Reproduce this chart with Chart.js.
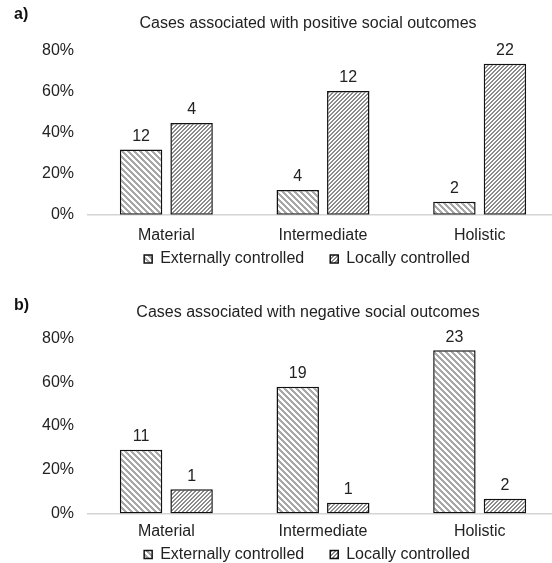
<!DOCTYPE html>
<html><head><meta charset="utf-8">
<script src="https://cdn.jsdelivr.net/npm/chart.js@4"></script>
<style>
html,body{margin:0;padding:0;background:#fff;overflow:hidden;width:552px;height:563px;}
#wrap{position:relative;width:552px;height:563px;overflow:hidden;background:#fff;}
canvas{position:absolute;left:0;}
#ca{top:0px;width:584px;height:309px;}
#cb{top:285px;width:584px;height:316px;}
.lab{position:absolute;left:14px;font:bold 16px "Liberation Sans",Arial,sans-serif;color:#111;line-height:18px;}
</style></head><body>
<div id="wrap">
<canvas id="ca" width="584" height="309"></canvas>
<canvas id="cb" width="584" height="316"></canvas>
<div class="lab" style="top:5px">a)</div>
<div class="lab" style="top:296px">b)</div>
</div>
<script>
// ---- data ----
const categories = ['Material', 'Intermediate', 'Holistic'];
const seriesNames = ['Externally controlled', 'Locally controlled'];
const yTicks = [0, 20, 40, 60, 80];

const titleA = 'Cases associated with positive social outcomes';
const posExternalPct = [31.8, 12.1, 6.3];
const posLocalPct = [44.7, 60.3, 73.6];
const posExternalCount = [12, 4, 2];
const posLocalCount = [4, 12, 22];

const titleB = 'Cases associated with negative social outcomes';
const negExternalPct = [29.1, 57.9, 74.6];
const negLocalPct = [11.1, 5.0, 6.8];
const negExternalCount = [11, 19, 23];
const negLocalCount = [1, 1, 2];

// ---- styles ----
const FONT = '"Liberation Sans", Arial, sans-serif';
const FS = 16;
const TXT = '#222222';

function makePattern(n, w, color, dir) {
  const c = document.createElement('canvas');
  c.width = n; c.height = n;
  const x = c.getContext('2d');
  x.fillStyle = '#ffffff';
  x.fillRect(0, 0, n, n);
  x.fillStyle = color;
  for (let i = 0; i < n; i++) {
    for (let j = 0; j < n; j++) {
      const v = dir > 0 ? (i + j) % n : ((i - j) % n + n) % n;
      if (v < w) x.fillRect(i, j, 1, 1);
    }
  }
  return x.createPattern(c, 'repeat');
}
const patExternal = makePattern(6, 3, '#a8a8a8', -1);
const patLocal = makePattern(4, 2, '#8c8c8c', 1);

const valueLabels = {
  id: 'valueLabels',
  afterDatasetsDraw(chart, args, opts) {
    const ctx = chart.ctx;
    ctx.save();
    ctx.font = FS + 'px ' + FONT;
    ctx.fillStyle = TXT;
    ctx.textAlign = 'center';
    ctx.textBaseline = 'middle';
    chart.data.datasets.forEach((ds, di) => {
      const meta = chart.getDatasetMeta(di);
      meta.data.forEach((el, i) => {
        ctx.fillText(String(opts.counts[di][i]), el.x, el.y - 13);
      });
    });
    ctx.restore();
  }
};

const shiftBlocks = {
  id: 'shiftBlocks',
  afterLayout(chart, args, opts) {
    const t = chart.titleBlock;
    if (t) { const dx = opts.titleCenter - (t.left + t.right) / 2; t.left += dx; t.right += dx; }
    const l = chart.legend;
    if (l) {
      const dx = opts.legendCenter - (l.left + l.right) / 2; l.left += dx; l.right += dx;
      const h = l.bottom - l.top; l.top = opts.legendTop; l.bottom = l.top + h;
    }
  }
};

function build(id, title, ext, loc, extC, locC, cfg) {
  return new Chart(document.getElementById(id), {
    type: 'bar',
    data: {
      labels: categories,
      datasets: [
        { label: seriesNames[0], data: ext, backgroundColor: patExternal, borderColor: '#111111', borderWidth: 1.5, borderSkipped: false },
        { label: seriesNames[1], data: loc, backgroundColor: patLocal, borderColor: '#111111', borderWidth: 1.5, borderSkipped: false }
      ]
    },
    options: {
      responsive: false,
      animation: false,
      devicePixelRatio: 1,
      layout: { padding: { left: 0, right: 26, top: 0, bottom: 0 } },
      datasets: { bar: { categoryPercentage: 0.645, barPercentage: 0.84 } },
      scales: {
        x: {
          grid: { display: false, drawTicks: false },
          border: { display: true, color: '#d4d4d4', width: 1.5 },
          ticks: { color: TXT, font: { family: FONT, size: FS }, padding: cfg.xPad, maxRotation: 0, autoSkip: false }
        },
        y: {
          min: 0, max: 80,
          afterBuildTicks(s) { s.ticks = yTicks.map(v => ({ value: v })); },
          grid: { display: false, drawTicks: false },
          border: { display: false },
          ticks: { color: TXT, font: { family: FONT, size: FS }, padding: 14, callback: v => v + '%' },
          afterFit(s) { s.width = 88; }
        }
      },
      plugins: {
        title: { display: true, text: title, color: TXT, font: { family: FONT, size: FS, weight: 'normal' }, padding: cfg.titlePad },
        legend: {
          position: 'bottom',
          labels: { color: TXT, font: { family: FONT, size: FS }, boxWidth: 8, boxHeight: 8, padding: 26 }
        },
        tooltip: { enabled: false },
        valueLabels: { counts: [extC, locC] },
        shiftBlocks: { titleCenter: 308, legendCenter: 307, legendTop: cfg.legendTop }
      }
    },
    plugins: [valueLabels, shiftBlocks]
  });
}

build('ca', titleA, posExternalPct, posLocalPct, posExternalCount, posLocalCount,
  { xPad: 11.5, titlePad: { top: 14.4, bottom: 16.9 }, legendTop: 225 });
build('cb', titleB, negExternalPct, negLocalPct, negExternalCount, negLocalCount,
  { xPad: 8.1, titlePad: { top: 18.4, bottom: 15.8 }, legendTop: 235.5 });
</script>
</body></html>
